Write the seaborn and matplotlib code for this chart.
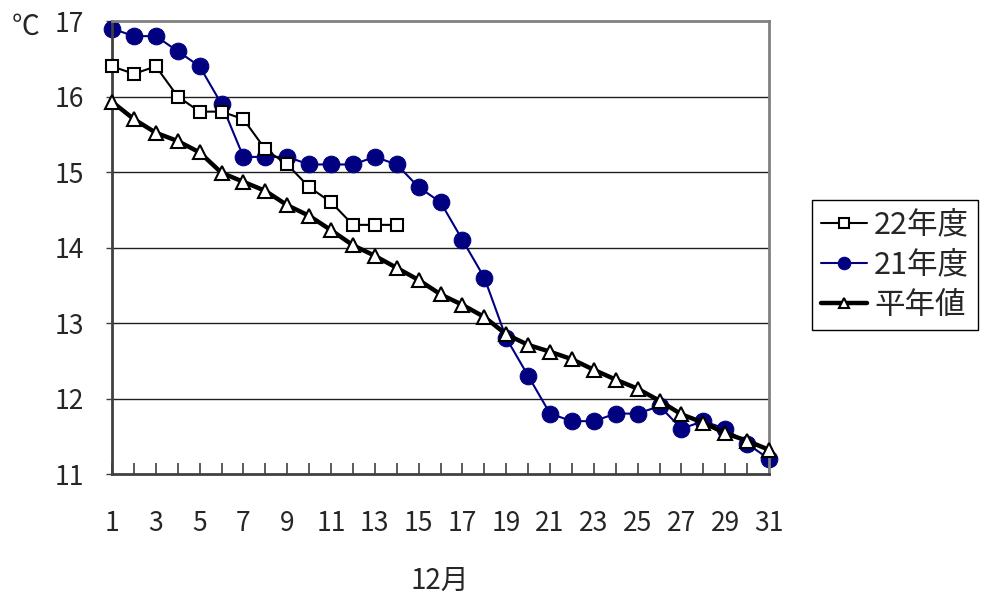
import matplotlib
matplotlib.use("Agg")
import matplotlib.pyplot as plt
import seaborn as sns
import pandas as pd

sns.set_style("white")
plt.rcParams['font.family'] = ['Noto Sans CJK JP', 'DejaVu Sans']

# December daily values
days = list(range(1, 32))
y22 = [16.4, 16.3, 16.4, 16.0, 15.8, 15.8, 15.7, 15.3, 15.1, 14.8, 14.6, 14.3, 14.3, 14.3]
y21 = [16.9, 16.8, 16.8, 16.6, 16.4, 15.9, 15.2, 15.2, 15.2, 15.1, 15.1, 15.1, 15.2, 15.1,
       14.8, 14.6, 14.1, 13.6, 12.8, 12.3, 11.8, 11.7, 11.7, 11.8, 11.8, 11.9, 11.6, 11.7,
       11.6, 11.4, 11.2]
normal = [15.93, 15.70, 15.52, 15.41, 15.26, 14.99, 14.87, 14.75, 14.56, 14.42, 14.23,
          14.03, 13.89, 13.73, 13.57, 13.38, 13.24, 13.08, 12.85, 12.71, 12.62, 12.52,
          12.38, 12.25, 12.13, 11.97, 11.79, 11.68, 11.54, 11.44, 11.32]
labels = ["22年度", "21年度", "平年値"]
xticks = list(range(1, 32, 2))
yticks = [11, 12, 13, 14, 15, 16, 17]

df22 = pd.DataFrame({"day": days[:len(y22)], "temp": y22})
df21 = pd.DataFrame({"day": days, "temp": y21})
dfn = pd.DataFrame({"day": days, "temp": normal})

fig = plt.figure(figsize=(9.88, 6.01), dpi=100)
ax = fig.add_axes([0.1134, 0.2113, 0.665, 0.7537])

for yv in yticks[1:-1]:
    ax.axhline(yv, color="#202020", lw=1.0, zorder=0)

sns.lineplot(data=dfn, x="day", y="temp", ax=ax, color="black", lw=3.2,
             marker="^", markersize=10, markerfacecolor="white",
             markeredgecolor="black", markeredgewidth=1.5, label=labels[2],
             clip_on=False, zorder=3)
sns.lineplot(data=df21, x="day", y="temp", ax=ax, color="#000080", lw=1.5,
             marker="o", markersize=12, markerfacecolor="#000080",
             markeredgecolor="#000080", label=labels[1], clip_on=False, zorder=2)
sns.lineplot(data=df22, x="day", y="temp", ax=ax, color="black", lw=1.5,
             marker="s", markersize=9, markerfacecolor="white",
             markeredgecolor="black", markeredgewidth=1.5, label=labels[0],
             clip_on=False, zorder=4)

ax.set_xlim(1, 31)
ax.set_ylim(11, 17)
ax.set_xticks(days, minor=True)
ax.set_xticks(xticks)
ax.set_yticks(yticks)
ax.tick_params(axis="x", which="both", direction="in", length=8, width=1.2,
               color="#404040", labelsize=19, pad=26, bottom=True)
ax.tick_params(axis="y", direction="out", length=4, width=1, color="#404040",
               labelsize=19, pad=16, left=True)
ax.set_xlabel("")
ax.set_ylabel("")
for side in ["left", "bottom"]:
    ax.spines[side].set_color("#404040")
    ax.spines[side].set_linewidth(2)
for side in ["top", "right"]:
    ax.spines[side].set_color("#808080")
    ax.spines[side].set_linewidth(2)

ax.get_legend().remove()
h, l = ax.get_legend_handles_labels()
order = [l.index(s) for s in labels]
fig.legend([h[i] for i in order], [l[i] for i in order], loc="upper left",
           bbox_to_anchor=(0.806, 0.692), frameon=True, fancybox=False,
           edgecolor="black", fontsize=22, handlelength=1.5, borderpad=0.3,
           labelspacing=0.3, handletextpad=0.25, framealpha=1, markerscale=0.75)

fig.text(0.012, 0.955, "℃", fontsize=20, ha="left", va="center")
fig.text(0.445, 0.033, "12月", fontsize=20, ha="center", va="center")

fig.savefig("out.png", dpi=100)
